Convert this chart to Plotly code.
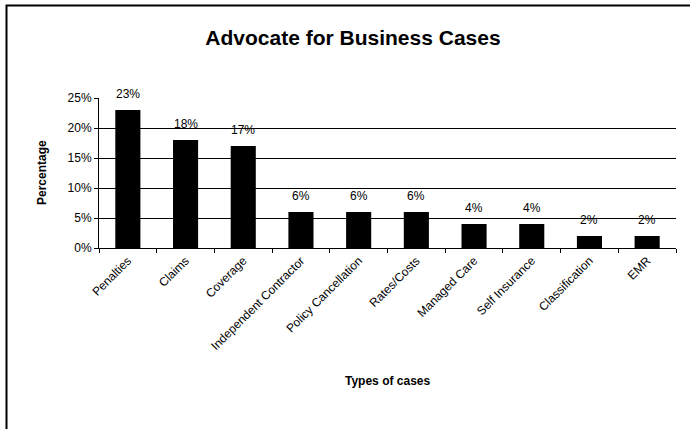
import plotly.graph_objects as go

categories = ["Penalties", "Claims", "Coverage", "Independent Contractor",
              "Policy Cancellation", "Rates/Costs", "Managed Care",
              "Self Insurance", "Classification", "EMR"]
values = [0.23, 0.18, 0.17, 0.06, 0.06, 0.06, 0.04, 0.04, 0.02, 0.02]
y_ticks = [0, 0.05, 0.10, 0.15, 0.20, 0.25]

W, H = 690, 429
L, R, T, B = 99, 14, 98, 181
pw, ph = W - L - R, H - T - B

def px_x(px):
    return (px - L) / pw

def px_y(py):
    return (H - B - py) / ph

font_family = "Liberation Sans, Arial, sans-serif"

fig = go.Figure(go.Bar(
    x=categories, y=values,
    marker=dict(color="black", line=dict(color="black", width=0)),
    cliponaxis=False,
))

label_annotations = [
    dict(x=c, y=v, xref="x", yref="y", text=f"{round(v * 100)}%",
         showarrow=False, xanchor="center", yanchor="middle", yshift=16,
         font=dict(family=font_family, size=12, color="black"))
    for c, v in zip(categories, values)
]

fig.update_layout(
    width=W, height=H,
    margin=dict(l=L, r=R, t=T, b=B, autoexpand=False),
    paper_bgcolor="white", plot_bgcolor="white",
    bargap=0.565,
    showlegend=False,
    font=dict(family=font_family, size=12, color="black"),
    title=dict(text="<b>Advocate for Business Cases</b>", x=353 / W, xanchor="center",
               y=1 - 38 / H, yanchor="middle", yref="container",
               font=dict(family=font_family, size=21, color="black")),
    xaxis=dict(type="category", showline=True, linecolor="black", linewidth=1,
               ticks="outside", tickson="boundaries", ticklen=4, tickcolor="black",
               tickangle=-45, tickfont=dict(size=12, family=font_family),
               showgrid=False, automargin=False),
    yaxis=dict(range=[0, 0.25], tickvals=y_ticks, tickformat=".0%",
               showline=True, linecolor="black", linewidth=1,
               ticks="outside", ticklen=4, tickcolor="black",
               showgrid=True, gridcolor="black", gridwidth=1,
               tickfont=dict(size=12, family=font_family),
               zeroline=False, automargin=False),
    annotations=label_annotations + [
        dict(text="<b>Percentage</b>", xref="paper", yref="paper",
             x=px_x(42), y=0.5, textangle=-90, showarrow=False,
             xanchor="center", yanchor="middle",
             font=dict(family=font_family, size=12, color="black")),
        dict(text="<b>Types of cases</b>", xref="paper", yref="paper",
             x=0.5, y=px_y(381), showarrow=False,
             xanchor="center", yanchor="middle",
             font=dict(family=font_family, size=12, color="black")),
    ],
    shapes=[
        dict(type="rect", xref="paper", yref="paper",
             x0=px_x(6.5), x1=px_x(720), y0=px_y(460), y1=px_y(5.5),
             line=dict(color="black", width=2), fillcolor="rgba(0,0,0,0)",
             layer="below"),
    ],
)

fig.write_html("out.html", config={"displayModeBar": False},
               post_script="document.body.style.margin='0';document.body.style.overflow='hidden';")
